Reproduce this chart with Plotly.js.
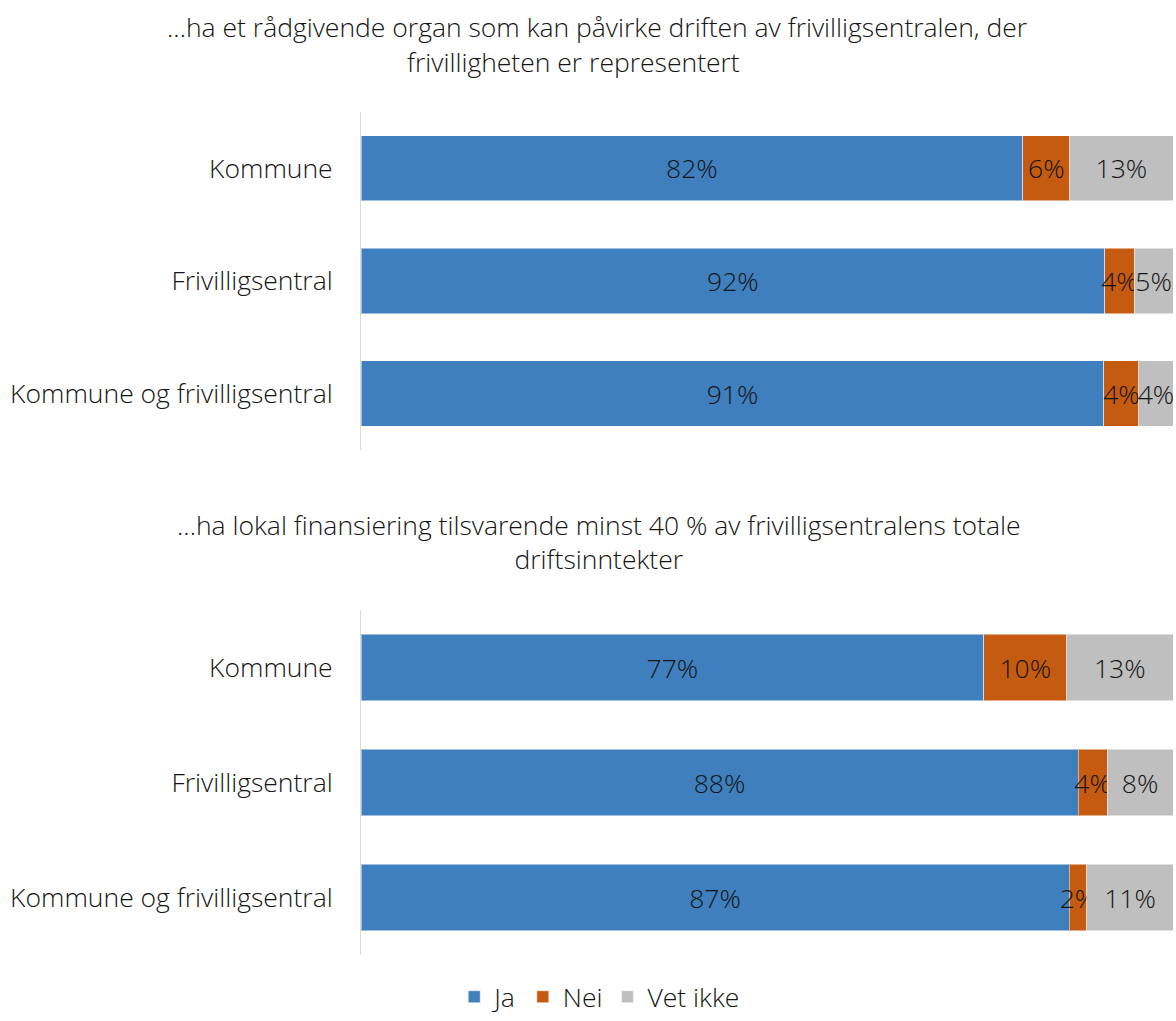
<!DOCTYPE html>
<html>
<head>
<meta charset="utf-8">
<script src="https://cdn.plot.ly/plotly-3.0.1.min.js"></script>
<style>html,body{margin:0;padding:0;background:#fff;overflow:hidden;}#chart{width:1176px;height:1021px;}</style>
</head>
<body>
<div id="chart"></div>
<script>
const categories = ['Kommune', 'Frivilligsentral', 'Kommune og frivilligsentral'];
const seriesNames = ['Ja', 'Nei', 'Vet ikke'];

const title1Lines = ['...ha et rådgivende organ som kan påvirke driften av frivilligsentralen, der', 'frivilligheten er representert'];
const title2 = '...ha lokal finansiering tilsvarende minst 40 % av frivilligsentralens totale<br>driftsinntekter';

// Panel 1 values (share of bar, %)
const ja1 = [81.5, 91.6, 91.5];
const nei1 = [5.8, 3.6, 4.3];
const vet1 = [12.7, 4.8, 4.2];
const jaLabels1 = ['82%', '92%', '91%'];
const neiLabels1 = ['6%', '4%', '4%'];
const vetLabels1 = ['13%', '5%', '4%'];

// Panel 2 values
const ja2 = [76.7, 88.3, 87.2];
const nei2 = [10.2, 3.6, 2.2];
const vet2 = [13.1, 8.1, 10.6];
const jaLabels2 = ['77%', '88%', '87%'];
const neiLabels2 = ['10%', '4%', '2%'];
const vetLabels2 = ['13%', '8%', '11%'];

const colors = ['#3F7FBD', '#C55A11', '#BFBFBF'];
const FONT = '"Open Sans", "Noto Sans", sans-serif';
const FS = 26.5;
const TXT = '#141414';

function mk(vals, labels, idx, yax, show) {
  return {
    type: 'bar', orientation: 'h',
    y: categories, x: vals,
    name: seriesNames[idx],
    text: labels, textposition: 'inside', insidetextanchor: 'middle',
    textangle: 0, constraintext: 'none', cliponaxis: false,
    textfont: {family: FONT, size: FS, color: TXT, weight: 300},
    marker: {color: colors[idx], line: {color: 'rgba(255,255,255,0.5)', width: 1}},
    xaxis: yax === 'y' ? 'x' : 'x2', yaxis: yax,
    showlegend: show, legendgroup: seriesNames[idx],
    hoverinfo: 'x+y+name'
  };
}

const data = [
  mk(ja1, jaLabels1, 0, 'y', true),
  mk(nei1, neiLabels1, 1, 'y', true),
  mk(vet1, vetLabels1, 2, 'y', true),
  mk(ja2, jaLabels2, 0, 'y2', false),
  mk(nei2, neiLabels2, 1, 'y2', false),
  mk(vet2, vetLabels2, 2, 'y2', false)
];

const yCommon = {
  type: 'category', autorange: 'reversed',
  showline: true, linecolor: '#D9D9D9', linewidth: 1,
  ticks: 'outside', ticklen: 22, tickcolor: 'rgba(0,0,0,0)',
  showgrid: false, zeroline: false,
  tickfont: {family: FONT, size: FS, color: TXT, weight: 300}
};
const xCommon = {range: [0, 100], visible: false, fixedrange: true};
const annFont = {family: FONT, size: FS, color: TXT, weight: 300};

const layout = {
  width: 1176, height: 1021,
  margin: {l: 361, r: 3, t: 0, b: 0, autoexpand: false},
  paper_bgcolor: '#fff', plot_bgcolor: '#fff',
  barmode: 'stack', bargap: 0.42,
  font: {family: FONT, color: TXT, weight: 300},
  xaxis: Object.assign({}, xCommon, {anchor: 'y'}),
  xaxis2: Object.assign({}, xCommon, {anchor: 'y2'}),
  yaxis: Object.assign({}, yCommon, {domain: [0.5593, 0.8903], anchor: 'x'}),
  yaxis2: Object.assign({}, yCommon, {domain: [0.0646, 0.4025], anchor: 'x2'}),
  annotations: [
    {text: title1Lines[0], xref: 'paper', yref: 'paper', x: 0.2906, y: 0.9736, xanchor: 'center', yanchor: 'middle',
     showarrow: false, font: annFont},
    {text: title1Lines[1], xref: 'paper', yref: 'paper', x: 0.2611, y: 0.9393, xanchor: 'center', yanchor: 'middle',
     showarrow: false, font: annFont},
    {text: title2, xref: 'paper', yref: 'paper', x: 0.2931, y: 0.4696, xanchor: 'center', yanchor: 'middle',
     showarrow: false, font: annFont}
  ],
  legend: {orientation: 'h', x: 0.294, xanchor: 'center', y: 0, yanchor: 'bottom',
           font: {family: FONT, size: FS, color: TXT, weight: 300}, traceorder: 'normal', itemwidth: 30},
  showlegend: true
};

Plotly.newPlot('chart', data, layout, {displayModeBar: false, staticPlot: true});
</script>
</body>
</html>
